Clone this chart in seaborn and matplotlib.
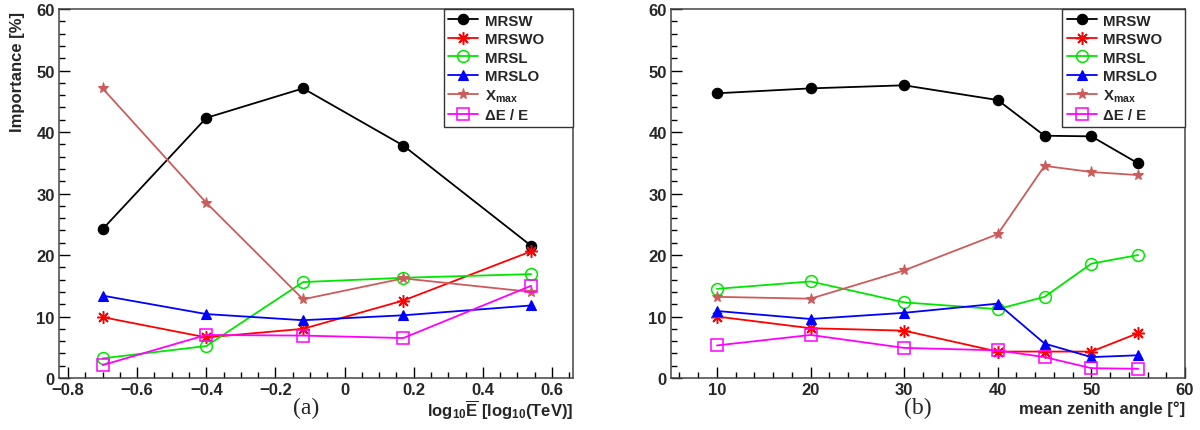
import matplotlib
matplotlib.use("Agg")
import matplotlib.pyplot as plt
import seaborn as sns
from matplotlib.ticker import MultipleLocator

# energy panel (a)
log_e = [-0.70, -0.40, -0.12, 0.17, 0.54]
a_mrsw = [24.2, 42.3, 47.1, 37.8, 21.5]
a_mrswo = [9.9, 6.6, 8.0, 12.6, 20.6]
a_mrsl = [3.2, 5.2, 15.6, 16.3, 16.9]
a_mrslo = [13.4, 10.4, 9.4, 10.2, 11.8]
a_xmax = [47.1, 28.5, 12.8, 16.2, 14.0]
a_de = [2.1, 7.0, 6.9, 6.5, 15.0]

# zenith panel (b)
zenith = [10, 20, 30, 40, 45, 50, 55]
b_mrsw = [46.3, 47.1, 47.6, 45.2, 39.4, 39.3, 34.9]
b_mrswo = [10.0, 8.1, 7.7, 4.3, 4.3, 4.3, 7.3]
b_mrsl = [14.5, 15.7, 12.3, 11.2, 13.2, 18.6, 20.0]
b_mrslo = [10.9, 9.6, 10.6, 12.1, 5.6, 3.4, 3.7]
b_xmax = [13.2, 12.9, 17.5, 23.4, 34.5, 33.5, 33.0]
b_de = [5.3, 7.0, 4.9, 4.5, 3.4, 1.6, 1.5]

labels = ["MRSW", "MRSWO", "MRSL", "MRSLO", "X$_{max}$", "\u0394E / E"]

sns.set_theme(style="white")
plt.rcParams["font.family"] = ["Liberation Sans", "DejaVu Sans"]
plt.rcParams["font.weight"] = "bold"
plt.rcParams["mathtext.fontset"] = "custom"
plt.rcParams["mathtext.rm"] = "Liberation Sans:bold"
plt.rcParams["mathtext.bf"] = "Liberation Sans:bold"
plt.rcParams["mathtext.it"] = "Liberation Sans:bold"
plt.rcParams["mathtext.default"] = "bf"

# (color, marker, size, filled)
styles = [
    ("black", "o", 7.5, True),
    ("#ff0000", (8, 2, 0), 9, False),
    ("#00e600", "o", 8.5, False),
    ("#0000ff", "^", 7.5, True),
    ("#cc5c5c", "*", 8, True),
    ("#ff00ff", "s", 8, False),
]

fig = plt.figure(figsize=(12, 4.31), dpi=100)
ax1 = fig.add_axes([0.0492, 0.1206, 0.4283, 0.8561])
ax2 = fig.add_axes([0.5592, 0.1206, 0.4283, 0.8561])


def draw(ax, x, series, leg_x0):
    for ys, lab, (c, m, ms, filled) in zip(series, labels, styles):
        sns.lineplot(x=x, y=ys, ax=ax, color=c, marker=m, markersize=ms,
                     markerfacecolor=c if filled else "none",
                     markeredgecolor=c, markeredgewidth=1.1 if not filled else 0.8,
                     linewidth=1.3, label=lab)
    ax.set_ylim(0, 60)
    ax.yaxis.set_major_locator(MultipleLocator(10))
    ax.yaxis.set_minor_locator(MultipleLocator(2))
    ax.tick_params(which="both", direction="in", top=False, right=False,
                   bottom=True, left=True, color="black", width=1.0,
                   labelsize=12, pad=3)
    ax.tick_params(which="major", length=8)
    ax.tick_params(which="minor", length=4)
    for lab in ax.get_xticklabels() + ax.get_yticklabels():
        lab.set_fontweight("bold")
    for sp in ax.spines.values():
        sp.set_color("#444444")
        sp.set_linewidth(1.1)
    leg = ax.legend(loc="upper right", mode="expand",
                    bbox_to_anchor=(leg_x0, 0.6, 1.0 - leg_x0, 0.4),
                    fontsize=10.8, frameon=True,
                    fancybox=False, framealpha=1, edgecolor="#333333",
                    borderaxespad=0, handlelength=2.0, handletextpad=0.45,
                    labelspacing=0.3, borderpad=0.3)
    leg.get_frame().set_linewidth(1.0)
    for t in leg.get_texts():
        t.set_fontweight("bold")


draw(ax1, log_e, [a_mrsw, a_mrswo, a_mrsl, a_mrslo, a_xmax, a_de], 0.749)
ax1.set_xlim(-0.826, 0.661)
ax1.xaxis.set_minor_locator(MultipleLocator(0.05))
ax1.set_xticks([-0.8, -0.6, -0.4, -0.2, 0, 0.2, 0.4, 0.6])
ax1.set_xticklabels(["\u22120.8", "\u22120.6", "\u22120.4", "\u22120.2", "0",
                     "0.2", "0.4", "0.6"], fontweight="bold")
ax1.set_ylabel("Importance [%]", fontsize=12, fontweight="bold")
ax1.yaxis.set_label_coords(-0.066, 0.995)
ax1.yaxis.label.set_ha("right")
ax1.set_xlabel(r"log$_{10}\overline{E}$ [log$_{10}$(TeV)]", fontsize=12,
               fontweight="bold")
ax1.xaxis.set_label_coords(1.0, -0.055)
ax1.xaxis.label.set_ha("right")
ax1.xaxis.label.set_va("top")

draw(ax2, zenith, [b_mrsw, b_mrswo, b_mrsl, b_mrslo, b_xmax, b_de], 0.761)
ax2.set_xlim(5.1, 60)
ax2.xaxis.set_major_locator(MultipleLocator(10))
ax2.xaxis.set_minor_locator(MultipleLocator(2))
for lab in ax2.get_xticklabels():
    lab.set_fontweight("bold")
ax2.set_ylabel("")
ax2.set_xlabel("mean zenith angle [\u00b0]", fontsize=12, fontweight="bold")
ax2.xaxis.set_label_coords(1.0, -0.06)
ax2.xaxis.label.set_ha("right")
ax2.xaxis.label.set_va("top")

fig.text(306 / 1200, 1 - 408 / 431, "(a)", fontsize=17, ha="center",
         va="center", family=["Liberation Serif", "DejaVu Serif"],
         fontweight="normal")
fig.text(918 / 1200, 1 - 408 / 431, "(b)", fontsize=17, ha="center",
         va="center", family=["Liberation Serif", "DejaVu Serif"],
         fontweight="normal")

fig.savefig("out.png", dpi=100)
